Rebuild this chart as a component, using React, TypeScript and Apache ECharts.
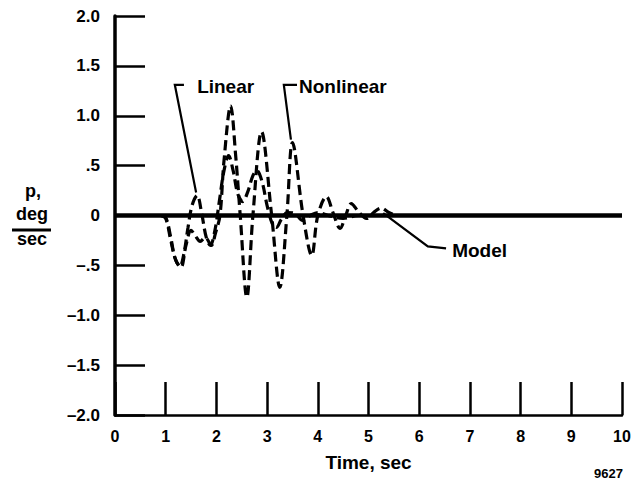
import React, { useEffect, useRef } from "react";
import * as echarts from "echarts";

// Tick values and labels
const xTicks = [0, 1, 2, 3, 4, 5, 6, 7, 8, 9, 10];
const xTickLabels = ["0", "1", "2", "3", "4", "5", "6", "7", "8", "9", "10"];
const yTicks = [-2, -1.5, -1, -0.5, 0, 0.5, 1, 1.5, 2];
const yTickLabels = ["–2.0", "–1.5", "–1.0", "–.5", "0", ".5", "1.0", "1.5", "2.0"];

// Series: [time sec, p deg/sec]
const linearData: [number, number][] = [
  [0.9, 0], [1.0, -0.02], [1.1, -0.22], [1.18, -0.42], [1.28, -0.51], [1.36, -0.38],
  [1.44, -0.12], [1.52, 0.1], [1.62, 0.2], [1.71, 0.02], [1.8, -0.22], [1.88, -0.3],
  [1.97, -0.15], [2.06, 0.15], [2.15, 0.45], [2.24, 0.6], [2.33, 0.45], [2.42, 0.22],
  [2.52, 0.14], [2.62, 0.24], [2.72, 0.4], [2.8, 0.45], [2.9, 0.34], [3.0, 0.1],
  [3.1, -0.08], [3.18, -0.12], [3.28, -0.04], [3.4, 0.03], [3.55, 0.02], [3.7, -0.05],
  [3.85, 0.0], [4.0, 0.03], [4.2, 0.0], [4.5, -0.03], [4.8, 0.0], [5.0, 0],
];

const nonlinearData: [number, number][] = [
  [0.9, 0], [1.0, -0.03], [1.1, -0.25], [1.2, -0.45], [1.3, -0.52], [1.4, -0.3],
  [1.5, -0.15], [1.58, -0.2], [1.68, -0.26], [1.78, -0.22], [1.9, -0.3], [1.98, -0.18],
  [2.07, 0.0], [2.15, 0.55], [2.28, 1.1], [2.38, 0.6], [2.47, 0.0], [2.6, -0.82],
  [2.72, 0.0], [2.89, 0.84], [3.09, 0.0], [3.25, -0.72], [3.39, 0.0], [3.5, 0.73],
  [3.71, 0.0], [3.88, -0.4], [4.0, 0.0], [4.17, 0.19], [4.3, 0.03], [4.44, -0.13],
  [4.55, 0.0], [4.66, 0.12], [4.8, 0.04], [4.96, -0.03], [5.1, 0.03], [5.25, 0.075],
  [5.4, 0.03], [5.58, 0.0], [5.8, 0],
];

const modelData: [number, number][] = [[0, 0], [10, 0]];

// Annotation anchor points in data coordinates
const linearLeader: [number, number][] = [[1.36, 1.31], [1.18, 1.31], [1.6, 0.23]];
const linearLabelAt: [number, number] = [1.62, 1.29];
const nonlinearLeader: [number, number][] = [[3.59, 1.31], [3.33, 1.31], [3.47, 0.76]];
const nonlinearLabelAt: [number, number] = [3.63, 1.29];
const modelLeader: [number, number][] = [[5.29, 0.025], [6.17, -0.31], [6.53, -0.33]];
const modelLabelAt: [number, number] = [6.65, -0.35];

const FONT = "'Liberation Sans', Arial, Helvetica, sans-serif";

export default function App() {
  const ref = useRef<HTMLDivElement>(null);

  useEffect(() => {
    document.body.style.margin = "0";
    const chart = echarts.init(ref.current!, null, { renderer: "svg" });
    const dashed = {
      type: "line",
      symbol: "none",
      smooth: 0.35,
      lineStyle: { color: "#000", width: 3.2, type: [10, 5] },
      z: 2,
    };
    chart.setOption({
      animation: false,
      backgroundColor: "#fff",
      grid: { left: 115, right: 16, top: 16, bottom: 72 },
      xAxis: {
        type: "value",
        min: 0,
        max: 10,
        interval: 1,
        name: "Time, sec",
        nameLocation: "middle",
        nameGap: 38,
        nameTextStyle: { color: "#000", fontFamily: FONT, fontWeight: "bold", fontSize: 19 },
        axisLine: { show: true, onZero: false, lineStyle: { color: "#000", width: 2.5 } },
        axisTick: { show: true, inside: true, length: 33, lineStyle: { color: "#000", width: 2.5 } },
        axisLabel: {
          color: "#000",
          fontFamily: FONT,
          fontWeight: "bold",
          fontSize: 16,
          margin: 13,
          formatter: (v: number) => xTickLabels[xTicks.indexOf(v)] ?? "",
        },
        splitLine: { show: false },
      },
      yAxis: {
        type: "value",
        min: -2,
        max: 2,
        interval: 0.5,
        axisLine: { show: true, onZero: false, lineStyle: { color: "#000", width: 3.5 } },
        axisTick: { show: true, inside: true, length: 30, lineStyle: { color: "#000", width: 2.5 } },
        axisLabel: {
          color: "#000",
          fontFamily: FONT,
          fontWeight: "bold",
          fontSize: 17,
          margin: 15,
          formatter: (v: number) => {
            const i = yTicks.findIndex((t) => Math.abs(t - v) < 1e-9);
            return i >= 0 ? yTickLabels[i] : "";
          },
        },
        splitLine: { show: false },
      },
      series: [
        { ...dashed, name: "Linear", data: linearData },
        { ...dashed, name: "Nonlinear", data: nonlinearData },
        {
          type: "line",
          name: "Model",
          symbol: "none",
          data: modelData,
          lineStyle: { color: "#000", width: 4.5 },
          z: 3,
        },
      ],
    });

    const px = (p: [number, number]) => chart.convertToPixel({ gridIndex: 0 }, p) as number[];
    const leader = (pts: [number, number][]) => ({
      type: "polyline",
      shape: { points: pts.map(px) },
      style: { stroke: "#000", lineWidth: 2.2, fill: null },
      z: 10,
    });
    const label = (at: [number, number], text: string) => {
      const [x, y] = px(at);
      return {
        type: "text",
        x,
        y,
        style: {
          text,
          fill: "#000",
          font: `bold 19px ${FONT}`,
          textAlign: "left",
          textVerticalAlign: "middle",
        },
        z: 10,
      };
    };
    const plain = (x: number, y: number, text: string, size: number, align = "center") => ({
      type: "text",
      x,
      y,
      style: {
        text,
        fill: "#000",
        font: `bold ${size}px ${FONT}`,
        textAlign: align,
        textVerticalAlign: "middle",
      },
      z: 10,
    });

    chart.setOption({
      graphic: [
        leader(linearLeader),
        label(linearLabelAt, "Linear"),
        leader(nonlinearLeader),
        label(nonlinearLabelAt, "Nonlinear"),
        leader(modelLeader),
        label(modelLabelAt, "Model"),
        plain(33, 191, "p,", 18),
        plain(32, 214, "deg", 18),
        {
          type: "line",
          shape: { x1: 12, y1: 230, x2: 51, y2: 230 },
          style: { stroke: "#000", lineWidth: 3 },
        },
        plain(32, 239, "sec", 18),
        plain(623, 473, "9627", 13, "right"),
      ],
    });

    return () => chart.dispose();
  }, []);

  return <div ref={ref} style={{ width: 638, height: 487 }} />;
}
